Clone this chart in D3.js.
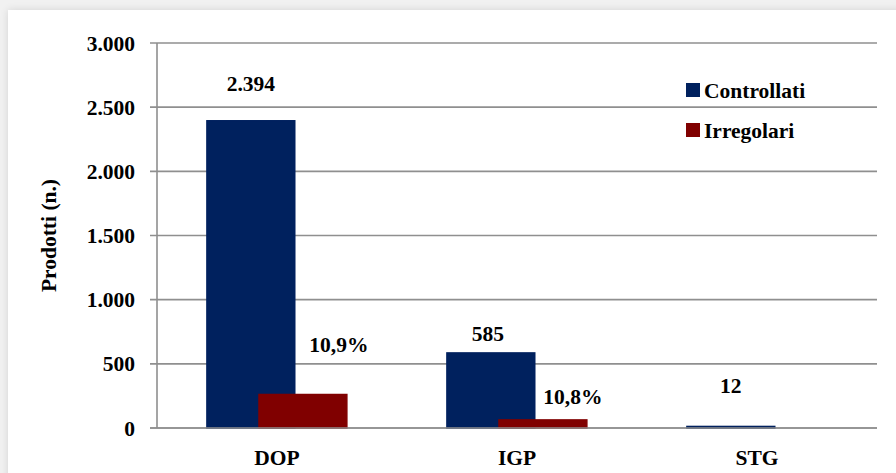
<!DOCTYPE html>
<html>
<head>
<meta charset="utf-8">
<script src="https://cdn.jsdelivr.net/npm/d3@7"></script>
<style>
  html, body { margin: 0; padding: 0; background: #f1f1f1; width: 896px; height: 473px; overflow: hidden; }
  #panel { position: absolute; left: 8px; top: 10px; width: 900px; height: 480px; background: #fff;
           box-shadow: 0 0 8px rgba(0,0,0,0.12); }
  svg { position: absolute; left: 0; top: 0; }
</style>
</head>
<body>
<div id="panel"></div>
<svg id="chart" width="896" height="473"></svg>
<script>
// ---- data ----
const categories = ["DOP", "IGP", "STG"];
const seriesNames = ["Controllati", "Irregolari"];
const controllati = [2394, 585, 12];
const irregolari = [261, 63, 0];
const controllatiLabels = ["2.394", "585", "12"];
const irregolariLabels = ["10,9%", "10,8%", ""];
const yTicks = [0, 500, 1000, 1500, 2000, 2500, 3000];
const yTitle = "Prodotti (n.)";

// ---- layout (styles/positions) ----
const FONT = "'Liberation Serif', 'Times New Roman', serif";
const FS = 21.5;
const colors = ["#00215e", "#800000"];
const plot = { left: 157, right: 877, top: 43, bottom: 428 };
const ctrlOffsets = [[0, 37], [-3, 19], [0, 41]];
const irrOffsets = [[36, 50], [30, 23], [0, 20]];

const svg = d3.select("#chart");
const fmt = d3.formatLocale({ decimal: ",", thousands: ".", grouping: [3], currency: ["", "€"] }).format(",d");

const x = d3.scaleBand().domain(categories).range([plot.left, plot.right]).paddingInner(0).paddingOuter(0);
const y = d3.scaleLinear().domain([0, 3000]).range([plot.bottom, plot.top]);
const bw = x.bandwidth();
const barW = bw * 0.366;
const offs = [bw * 0.208, bw * 0.425];

function txt(sel) {
  return sel.attr("font-family", FONT).attr("font-weight", "bold").attr("font-size", FS).attr("fill", "#000");
}

svg.append("g").selectAll("line").data(yTicks).join("line")
  .attr("x1", plot.left - 7).attr("x2", plot.right)
  .attr("y1", d => y(d)).attr("y2", d => y(d))
  .attr("stroke", "#8f8f8f").attr("stroke-width", 1.6);

svg.append("line").attr("x1", plot.left).attr("x2", plot.left)
  .attr("y1", y(3000)).attr("y2", y(0)).attr("stroke", "#8f8f8f").attr("stroke-width", 1.6);

txt(svg.append("g").selectAll("text").data(yTicks).join("text"))
  .attr("x", 135).attr("y", d => y(d)).attr("dy", "0.35em")
  .attr("text-anchor", "end").text(d => fmt(d));

txt(svg.append("text")).attr("transform", `translate(56,${(plot.top + plot.bottom) / 2}) rotate(-90)`)
  .attr("text-anchor", "middle").text(yTitle);

const seriesData = [controllati, irregolari];
seriesData.forEach((vals, s) => {
  svg.append("g").selectAll("rect").data(vals.map((v, i) => ({ v, c: categories[i] }))).join("rect")
    .attr("x", d => x(d.c) + offs[s]).attr("width", barW)
    .attr("y", d => y(d.v)).attr("height", d => y(0) - y(d.v))
    .attr("fill", colors[s]).attr("stroke", d => d.v > 0 ? colors[s] : "none").attr("stroke-width", 1.5);
});

svg.append("line").attr("x1", plot.left - 7).attr("x2", plot.right)
  .attr("y1", y(0)).attr("y2", y(0)).attr("stroke", "#8f8f8f").attr("stroke-width", 1.6);

txt(svg.append("g").selectAll("text").data(categories).join("text"))
  .attr("x", d => x(d) + bw / 2).attr("y", 457).attr("dy", "0.35em")
  .attr("text-anchor", "middle").text(d => d);

const labelSets = [[controllatiLabels, ctrlOffsets], [irregolariLabels, irrOffsets]];
labelSets.forEach(([labels, offsets], s) => {
  txt(svg.append("g").selectAll("text").data(labels).join("text"))
    .attr("x", (d, i) => x(categories[i]) + offs[s] + barW / 2 + offsets[i][0])
    .attr("y", (d, i) => y(seriesData[s][i]) - offsets[i][1]).attr("dy", "0.35em")
    .attr("text-anchor", "middle").text(d => d);
});

const legend = svg.append("g");
seriesNames.forEach((name, i) => {
  const cy = 90 + i * 40;
  legend.append("rect").attr("x", 686).attr("y", cy - 7).attr("width", 14).attr("height", 14).attr("fill", colors[i]);
  txt(legend.append("text")).attr("x", 704).attr("y", cy).attr("dy", "0.35em").text(name);
});
</script>
</body>
</html>
